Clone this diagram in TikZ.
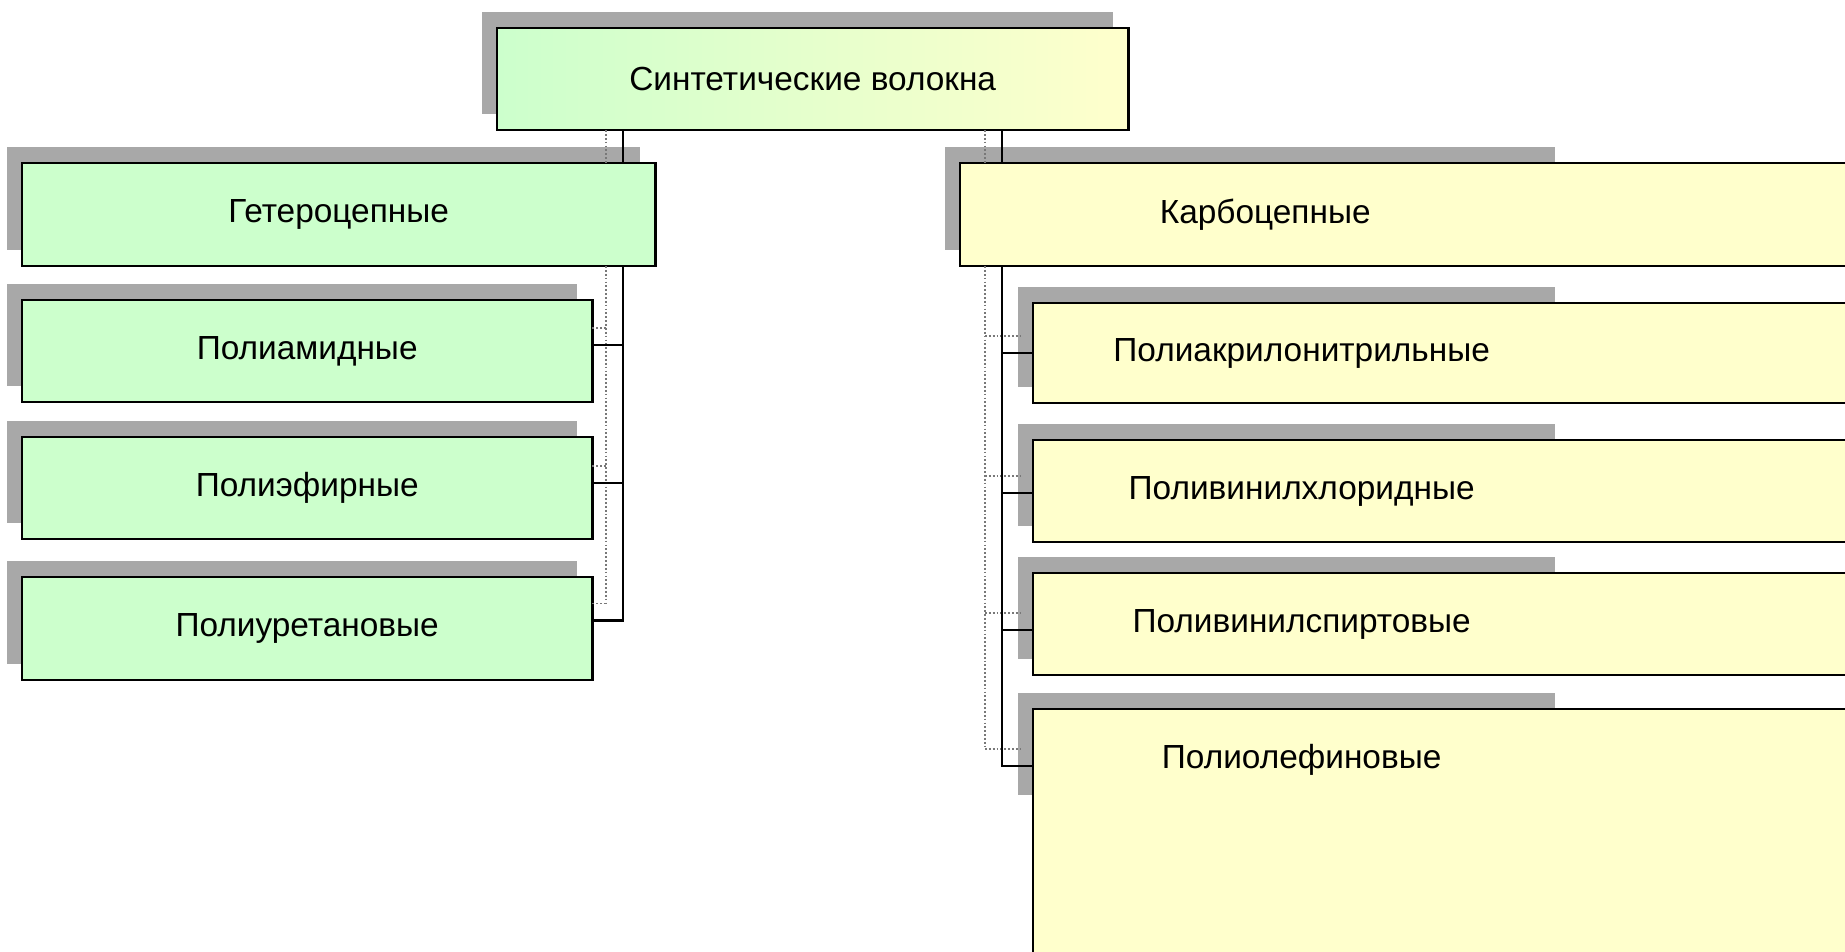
\documentclass[tikz,border=0pt]{standalone}
\usepackage{fontspec}
\setmainfont{Liberation Sans}
\usetikzlibrary{shadows}
\definecolor{boxgreen}{RGB}{204,255,204}
\definecolor{boxyellow}{RGB}{255,255,204}
\definecolor{shadowgray}{RGB}{168,168,168}
\definecolor{dotgray}{RGB}{120,120,120}
\begin{document}
\begin{tikzpicture}[x=0.01cm,y=-0.01cm,
  bx/.style={rectangle, inner sep=0pt, outer sep=0pt, anchor=north west,
             font=\fontsize{9.5pt}{11pt}\selectfont, text=black},
  shad/.style={drop shadow={shadow xshift=-0.15cm, shadow yshift=0.16cm,
             fill=shadowgray, opacity=1}},
  bline/.style={draw=black, line width=0.75pt},
  conn/.style={draw=black, line width=0.6pt},
  sconn/.style={draw=dotgray, line width=0.45pt, dash pattern=on 0.5pt off 0.6pt},
  lw/.style={minimum width=5.70cm, minimum height=1.02cm},
  rw/.style={minimum width=5.37cm, minimum height=1.02cm}
]
\fill[white] (0,0) rectangle (1845,952);
\useasboundingbox (0,0) rectangle (1845,952);

% top
\node[bx, bline, shad, left color=boxgreen, right color=boxyellow,
      minimum width=6.31cm, minimum height=1.02cm] (syn) at (497,28) {Синтетические волокна};

% left branch
\node[bx, bline, shad, fill=boxgreen, minimum width=6.33cm, minimum height=1.03cm] (het) at (22,163) {Гетероцепные};
\node[bx, bline, shad, fill=boxgreen, lw] (pa) at (22,300) {Полиамидные};
\node[bx, bline, shad, fill=boxgreen, lw] (pe) at (22,437) {Полиэфирные};
\node[bx, bline, shad, fill=boxgreen, lw, minimum height=1.03cm] (pu) at (22,577) {Полиуретановые};

% right branch
\node[bx, shad, fill=boxyellow, minimum width=6.10cm, minimum height=1.03cm] (karb) at (960,163) {Карбоцепные};
\node[bx, shad, fill=boxyellow, rw, minimum height=1.00cm] (pan) at (1033,303) {Полиакрилонитрильные};
\node[bx, shad, fill=boxyellow, rw] (pvc) at (1033,440) {Поливинилхлоридные};
\node[bx, shad, fill=boxyellow, rw] (pvs) at (1033,573) {Поливинилспиртовые};
\node[bx, shad, fill=boxyellow, rw] (pol) at (1033,709) {Полиолефиновые};

% boxes running past the right (and bottom) edge
\foreach \n in {karb,pan,pvc,pvs}{
  \fill[boxyellow] ([xshift=-1pt]\n.north east) rectangle ([xshift=3cm]\n.south east);
  \draw[bline] ([xshift=3cm]\n.north east) -- (\n.north west) -- (\n.south west) -- ([xshift=3cm]\n.south east);
}
\fill[boxyellow] ([xshift=-1pt]pol.north east) rectangle ([xshift=3cm,yshift=-3cm]pol.south east);
\fill[boxyellow] ([yshift=1pt]pol.south west) rectangle ([yshift=-3cm]pol.south east);
\draw[bline] ([xshift=3cm]pol.north east) -- (pol.north west) -- ([yshift=-3cm]pol.south west);

% connector columns
\coordinate (lx) at (623,0);
\coordinate (lxs) at (606,0);
\coordinate (rx) at (1002,0);
\coordinate (rxs) at (985,0);

% connector attach points
\coordinate (pac) at ([yshift=0.06cm]pa.east);
\coordinate (pec) at ([yshift=0.05cm]pe.east);
\coordinate (puc) at ([yshift=0.08cm]pu.east);
\coordinate (panc) at ([yshift=0.00cm]pan.west);
\coordinate (pvcc) at ([yshift=-0.02cm]pvc.west);
\coordinate (pvsc) at ([yshift=-0.06cm]pvs.west);
\coordinate (polc) at ([yshift=-0.06cm]pol.west);

% shadow (dotted) copies of the connectors
\coordinate (pas) at ([yshift=0.17cm]pac);
\coordinate (pes) at ([yshift=0.17cm]pec);
\coordinate (pus) at ([yshift=0.17cm]puc);
\coordinate (pans) at ([yshift=0.17cm,xshift=-0.13cm]panc);
\coordinate (pvcs) at ([yshift=0.17cm,xshift=-0.13cm]pvcc);
\coordinate (pvss) at ([yshift=0.17cm,xshift=-0.13cm]pvsc);
\coordinate (pols) at ([yshift=0.17cm,xshift=-0.13cm]polc);

\draw[sconn] (syn.south -| lxs) -- (het.north -| lxs);
\draw[sconn] (het.south -| lxs) -- (pus -| lxs);
\draw[sconn] (pas) -- (pas -| lxs);
\draw[sconn] (pes) -- (pes -| lxs);
\draw[sconn] (pus) -- (pus -| lxs);

\draw[sconn] (syn.south -| rxs) -- (karb.north -| rxs);
\draw[sconn] (karb.south -| rxs) -- (pols -| rxs);
\draw[sconn] (pans -| rxs) -- (pans);
\draw[sconn] (pvcs -| rxs) -- (pvcs);
\draw[sconn] (pvss -| rxs) -- (pvss);
\draw[sconn] (pols -| rxs) -- (pols);

% solid connectors
\draw[conn] (syn.south -| lx) -- (het.north -| lx);
\draw[conn] (het.south -| lx) -- (puc -| lx) -- (puc);
\draw[conn] (pac -| lx) -- (pac);
\draw[conn] (pec -| lx) -- (pec);

\draw[conn] (syn.south -| rx) -- (karb.north -| rx);
\draw[conn] (karb.south -| rx) -- (polc -| rx) -- (polc);
\draw[conn] (panc -| rx) -- (panc);
\draw[conn] (pvcc -| rx) -- (pvcc);
\draw[conn] (pvsc -| rx) -- (pvsc);
\end{tikzpicture}
\end{document}
